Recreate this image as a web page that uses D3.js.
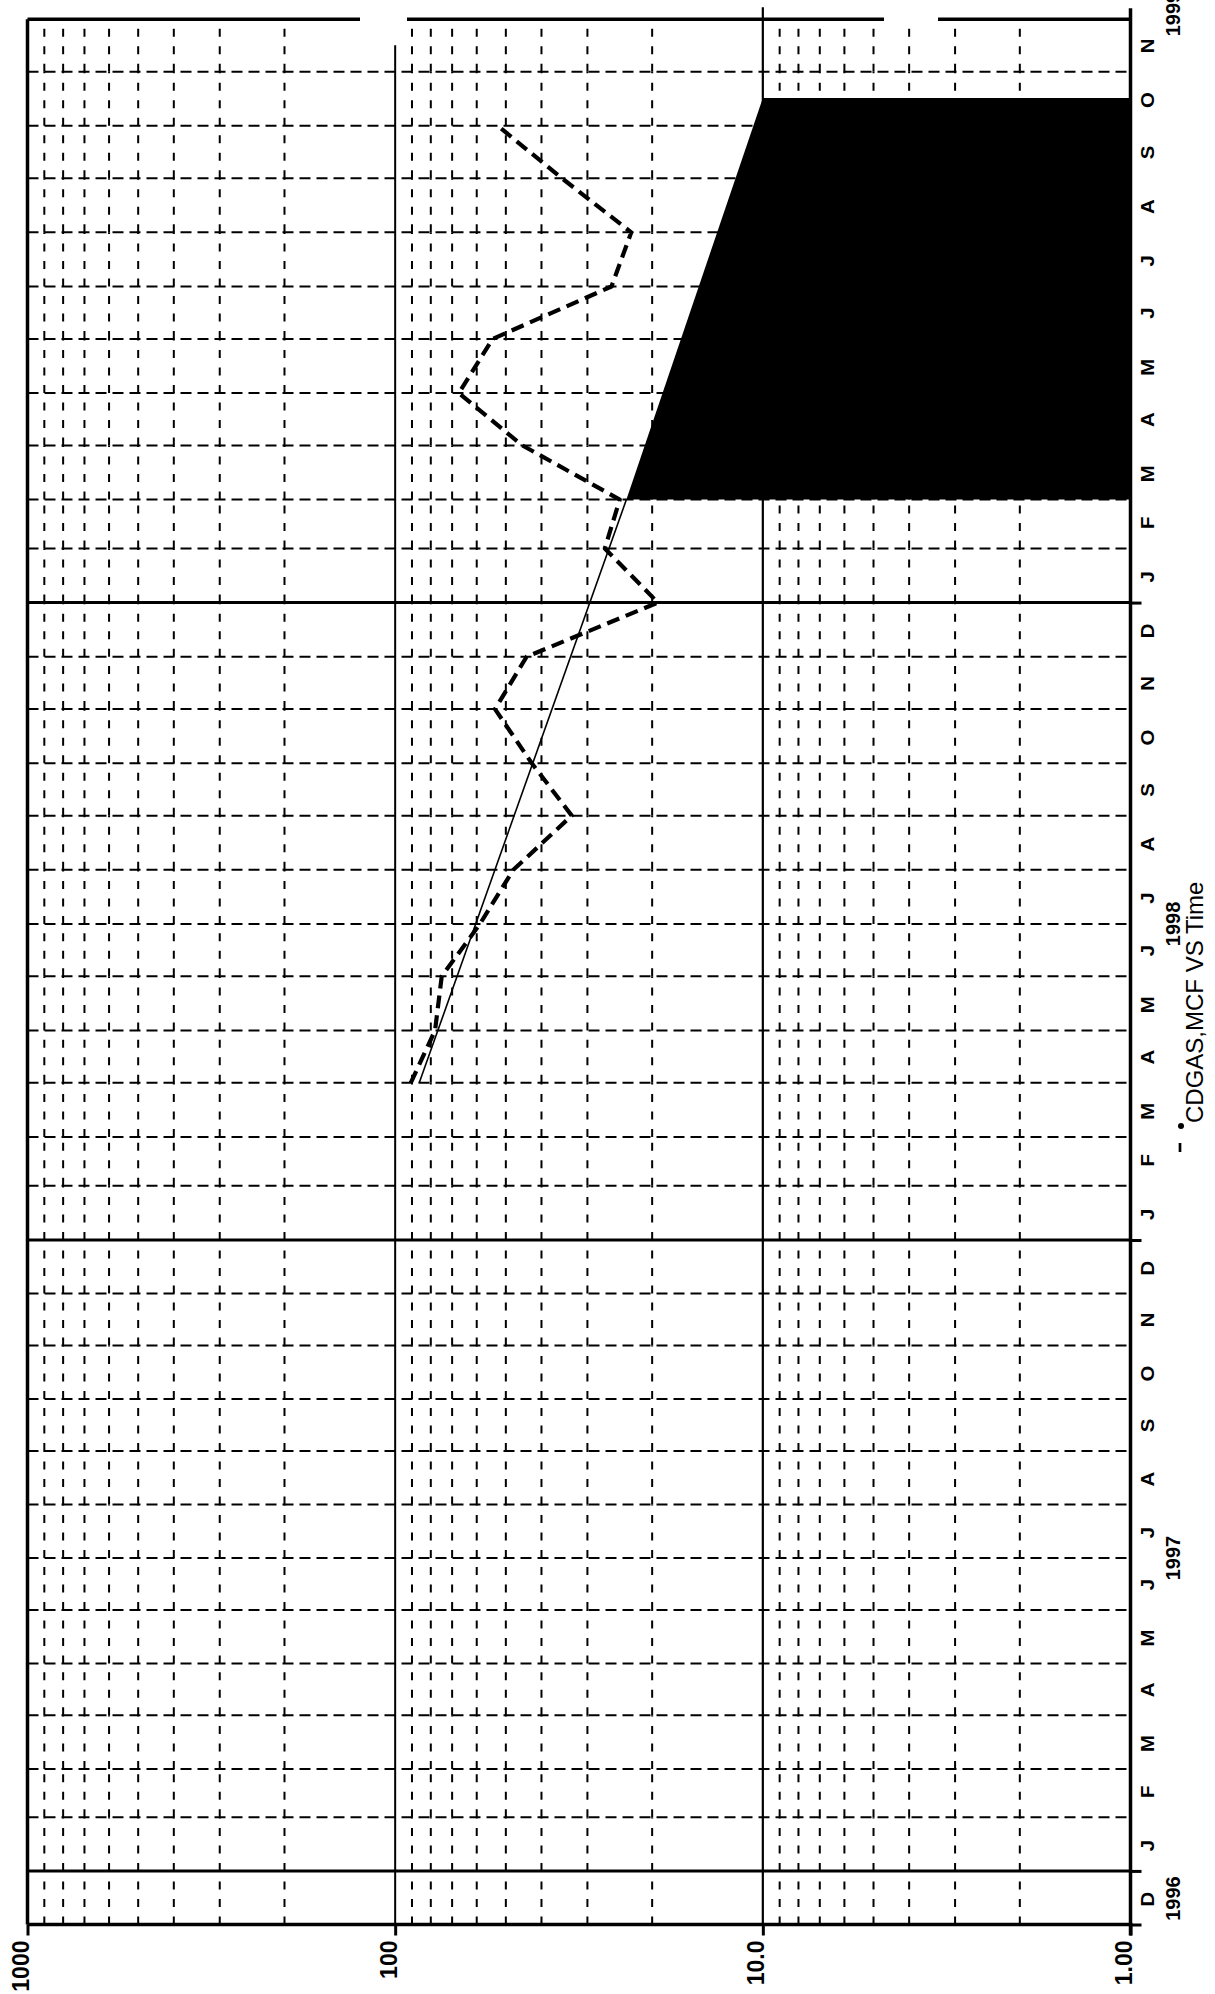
<!doctype html>
<html>
  <head>
    <meta charset="utf-8">
    <title>CDGAS, MCF vs Time</title>
    <script src="https://cdnjs.cloudflare.com/ajax/libs/d3/7.8.5/d3.min.js"></script>
    <style>
      body { margin: 0; background: #fff; }
      svg { display: block; font-family: "Liberation Sans", Arial, sans-serif; }
    </style>
  </head>
  <body>
    <svg width="1215" height="1994"></svg>
    <script>
      // chart data
      var logTicks = [1000, 100, 10, 1];
      var logTickLabels = ["1000", "100", "10.0", "1.00"];
      var monthLetters = ["J", "F", "M", "A", "M", "J", "J", "A", "S", "O", "N", "D"];
      var yearLabels = ["1996", "1997", "1998", "1999"];
      var yearLabelDates = ["1996-12-16", "1997-07-01", "1998-07-01", "1999-12-04"];

      // monthly gas production, MCF/day (dashed line)
      var prodDates = ["1998-04-01", "1998-05-01", "1998-06-01", "1998-07-01", "1998-08-01",
                       "1998-09-01", "1998-10-01", "1998-11-01", "1998-12-01", "1999-01-01",
                       "1999-02-01", "1999-03-01", "1999-04-01", "1999-05-01", "1999-06-01",
                       "1999-07-01", "1999-08-01", "1999-09-01", "1999-10-01"];
      var prodValues = [90.7, 77.9, 74.7, 58.8, 47.7, 33.1, 42.5, 53.5, 43.9, 19.3,
                        26.9, 24.5, 45.1, 67.1, 54.3, 25.8, 22.8, 35.2, 52.6];

      // decline fit (thin line) and forecast (filled)
      var trendDates = ["1998-04-01", "1999-03-01"];
      var trendValues = [86, 23.5];
      var forecastDates = ["1999-03-01", "1999-10-17"];
      var forecastValues = [23.5, 10];

      var parse = d3.timeParse("%Y-%m-%d");
      var svg = d3.select("svg");

      var plotLeft = 27.5, plotRight = 1130.5, plotBottom = 1924.5, plotTop = 19.3;
      var startDate = parse("1996-12-01"), endDate = parse("1999-12-01");

      // value axis runs horizontally (chart is printed on its side);
      // the middle stop of the time scale follows the slight stretch of the scan
      var x = d3.scaleLog().domain([1000, 1]).range([plotLeft, plotRight]);
      var y = d3.scaleTime()
        .domain([startDate, parse("1998-01-01"), endDate])
        .range([plotBottom, 1240, plotTop]);

      var months = d3.timeMonth.range(startDate, endDate);
      var minor = [];
      [1, 10, 100].forEach(function(d) {
        for (var k = 2; k <= 9; k++) minor.push(k * d);
      });

      var grid = svg.append("g");

      // dashed log lines, drawn per month so the dashes start at each month line
      minor.forEach(function(v) {
        months.forEach(function(m) {
          var m2 = d3.timeMonth.offset(m, 1);
          grid.append("line")
            .attr("x1", x(v)).attr("x2", x(v))
            .attr("y1", y(m)).attr("y2", y(m2))
            .attr("stroke", "#000")
            .attr("stroke-width", 2)
            .attr("stroke-dasharray", "8,9.5");
        });
      });

      // month lines (dashed), year lines (solid)
      months.slice(1).forEach(function(m) {
        var isYear = m.getMonth() === 0;
        grid.append("line")
          .attr("x1", plotLeft).attr("x2", plotRight)
          .attr("y1", y(m)).attr("y2", y(m))
          .attr("stroke", "#000")
          .attr("stroke-width", isYear ? 3 : 2)
          .attr("stroke-dasharray", isYear ? null : "11,6");
      });

      // decade lines
      grid.append("line")
        .attr("x1", x(100)).attr("x2", x(100))
        .attr("y1", plotTop + 26).attr("y2", plotBottom)
        .attr("stroke", "#000")
        .attr("stroke-width", 2);
      grid.append("line")
        .attr("x1", x(10)).attr("x2", x(10))
        .attr("y1", plotTop - 12).attr("y2", plotBottom)
        .attr("stroke", "#000")
        .attr("stroke-width", 2.2);

      // forecast area down to the axis minimum
      var forecast = forecastDates.map(function(d, i) { return { date: parse(d), value: forecastValues[i] }; });
      svg.append("path")
        .datum(forecast)
        .attr("fill", "#000")
        .attr("d", d3.area()
          .y(function(d) { return y(d.date); })
          .x0(x(1))
          .x1(function(d) { return x(d.value); }));

      // decline fit
      var trend = trendDates.map(function(d, i) { return { date: parse(d), value: trendValues[i] }; });
      var line = d3.line()
        .x(function(d) { return x(d.value); })
        .y(function(d) { return y(d.date); });
      svg.append("path")
        .datum(trend)
        .attr("fill", "none")
        .attr("stroke", "#000")
        .attr("stroke-width", 1.6)
        .attr("d", line);

      // production
      var prod = prodDates.map(function(d, i) { return { date: parse(d), value: prodValues[i] }; });
      svg.append("path")
        .datum(prod)
        .attr("fill", "none")
        .attr("stroke", "#000")
        .attr("stroke-width", 4.2)
        .attr("stroke-dasharray", "13,7")
        .attr("stroke-linejoin", "round")
        .attr("d", line);

      // frame: left and bottom edges, top edge with the scan's dropouts
      var frame = svg.append("g")
        .attr("stroke", "#000")
        .attr("stroke-width", 3.5);
      frame.append("line")
        .attr("x1", plotLeft).attr("x2", plotLeft)
        .attr("y1", plotTop).attr("y2", plotBottom);
      frame.append("line")
        .attr("x1", plotLeft).attr("x2", plotRight + 2)
        .attr("y1", plotBottom).attr("y2", plotBottom);
      [[plotLeft, 360], [407, 884], [938, plotRight]].forEach(function(s) {
        frame.append("line")
          .attr("x1", s[0]).attr("x2", s[1])
          .attr("y1", plotTop).attr("y2", plotTop);
      });
      // time axis line, running a little past both ends
      frame.append("line")
        .attr("x1", plotRight).attr("x2", plotRight)
        .attr("y1", plotTop - 11).attr("y2", plotBottom + 11);

      // value axis at the bottom
      var xAxis = svg.append("g")
        .attr("transform", "translate(0," + plotBottom + ")")
        .call(d3.axisBottom(x)
          .tickValues(logTicks)
          .tickSize(11)
          .tickSizeOuter(0)
          .tickFormat(function(d, i) { return logTickLabels[i]; }));
      xAxis.select(".domain").remove();
      xAxis.selectAll("line").attr("stroke-width", 3);
      xAxis.selectAll("text")
        .attr("x", null).attr("y", null).attr("dy", null)
        .attr("transform", "translate(1,16) rotate(-90)")
        .attr("text-anchor", "end")
        .attr("font-size", 23)
        .attr("font-weight", "bold")
        .attr("font-family", "Liberation Sans, Arial, sans-serif")
        .attr("fill", "#000");

      // time axis on the right: year ticks
      var yearTicks = [startDate].concat(d3.timeYear.range(parse("1997-01-01"), endDate));
      var yAxis = svg.append("g")
        .attr("transform", "translate(" + plotRight + ",0)")
        .call(d3.axisRight(y)
          .tickValues(yearTicks)
          .tickSize(11)
          .tickSizeOuter(0)
          .tickFormat(""));
      yAxis.select(".domain").remove();
      yAxis.selectAll("line").attr("stroke-width", 3);

      // month letters at mid-month
      var mid = months.map(function(m) { return d3.timeDay.offset(m, 15); });
      var mAxis = svg.append("g")
        .attr("transform", "translate(" + plotRight + ",0)")
        .call(d3.axisRight(y)
          .tickValues(mid)
          .tickSize(0)
          .tickFormat(function(d) { return monthLetters[d.getMonth()]; }));
      mAxis.select(".domain").remove();
      mAxis.selectAll("text")
        .attr("x", null).attr("dy", null)
        .attr("transform", "translate(23,0) rotate(-90) scale(1.1,1)")
        .attr("text-anchor", "middle")
        .attr("font-size", 18.5)
        .attr("font-weight", "bold")
        .attr("font-family", "Liberation Sans, Arial, sans-serif")
        .attr("fill", "#000");

      // year labels
      svg.append("g")
        .selectAll("text")
        .data(yearLabels)
        .join("text")
        .attr("transform", function(d, i) {
          return "translate(" + (plotRight + 49) + "," + y(parse(yearLabelDates[i])) + ") rotate(-90)";
        })
        .attr("text-anchor", "middle")
        .attr("font-size", 20)
        .attr("font-weight", "bold")
        .text(function(d) { return d; });

      // legend
      var legend = svg.append("g");
      legend.append("line")
        .attr("x1", 1180).attr("x2", 1180)
        .attr("y1", 1143).attr("y2", 1152)
        .attr("stroke", "#000")
        .attr("stroke-width", 2.7);
      legend.append("circle")
        .attr("cx", 1181).attr("cy", 1126).attr("r", 3)
        .attr("fill", "#000");
      legend.append("text")
        .attr("transform", "translate(1203,1123) rotate(-90)")
        .attr("font-size", 24)
        .text("CDGAS,MCF VS Time");
    </script>
  </body>
</html>
